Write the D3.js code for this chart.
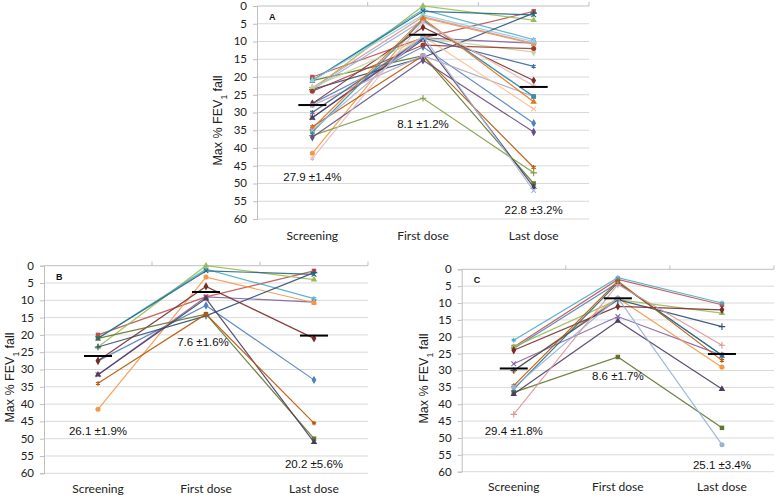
<!DOCTYPE html>
<html><head><meta charset="utf-8">
<script src="https://cdn.jsdelivr.net/npm/d3@7"></script>
<style>body{margin:0;background:#fff}</style>
</head><body><svg id="c" width="777" height="498"></svg>
<script>
const categories = ["Screening", "First dose", "Last dose"];
const yTicks = [0, 5, 10, 15, 20, 25, 30, 35, 40, 45, 50, 55, 60];

// Panel B subjects (Max % FEV1 fall)
const bScreening = [27.5, 20, 23.5, 31.5, 21, 41.5, 23.5, 27.5, 21, 31.5, 21, 34];
const bFirstDose = [11.5, 9, 0, 9, 1, 3.3, 14.5, 6, 14, 9.5, 1.5, 14];
const bLastDose  = [33, 1.5, 4, 10.5, 9.5, 10.7, 2, 21, 50, 51, 2.5, 45.5];

// Panel C subjects
const cScreening = [23.5, 23, 23, 28, 21, 30, 30, 24, 36.5, 37, 35.5, 34.5, 35, 43];
const cFirstDose = [4, 3, 9, 14, 2.5, 8.5, 9, 11, 26, 15.3, 4, 3.5, 8.5, 4.5];
const cLastDose  = [25.5, 10.5, 13, 25.5, 10, 29, 17, 12, 47, 35.5, 25.5, 27, 52, 22.5];

// Panel A = all subjects
const aScreening = bScreening.concat(cScreening);
const aFirstDose = bFirstDose.concat(cFirstDose);
const aLastDose  = bLastDose.concat(cLastDose);

// Group means and labels
const aMeans = [27.9, 8.1, 22.8];
const bMeans = [26.1, 7.6, 20.2];
const cMeans = [29.4, 8.6, 25.1];
const aMeanLabels = ["27.9 \u00B11.4%", "8.1 \u00B11.2%", "22.8 \u00B13.2%"];
const bMeanLabels = ["26.1 \u00B11.9%", "7.6 \u00B11.6%", "20.2 \u00B15.6%"];
const cMeanLabels = ["29.4 \u00B11.8%", "8.6 \u00B11.7%", "25.1 \u00B13.4%"];

const palette = ["#4F81BD","#C0504D","#9BBB59","#8064A2","#4BACC6","#F79646",
  "#2C4D75","#772C2A","#5F7530","#4D3B62","#276A7C","#B65708",
  "#95B3D7","#D99694","#C3D69B","#B3A2C7","#93CDDD","#FAC090",
  "#3A679C","#9F3B38","#7E9C40","#664F82","#348DA5","#E3721B","#A5B9DC","#E6B9B8"];

const svg = d3.select("#c");
const symTimes = d3.symbolTimes || d3.symbolCross;
const symPlus = d3.symbolPlus || d3.symbolCross;
const symAst = d3.symbolAsterisk || d3.symbolCross;
const markerTypes = [
  {t: d3.symbolDiamond, s: 20, fill: true},
  {t: d3.symbolSquare, s: 20, fill: true},
  {t: d3.symbolTriangle, s: 18, fill: true},
  {t: symTimes, s: 16, fill: false},
  {t: symAst, s: 16, fill: false},
  {t: d3.symbolCircle, s: 20, fill: true},
  {t: symPlus, s: 16, fill: false}
];

function panel(cfg) {
  const g = svg.append("g");
  const x = d3.scaleBand().domain(categories).range([cfg.x0, cfg.x1]);
  const y = d3.scaleLinear().domain([0, 60]).range([cfg.y0, cfg.y1]);

  // gridlines
  g.selectAll(".grid").data(yTicks.slice(1)).enter().append("line")
    .attr("x1", cfg.x0).attr("x2", cfg.x1)
    .attr("y1", d => y(d)).attr("y2", d => y(d))
    .attr("stroke", "#D9D9D9").attr("stroke-width", 1);

  // left axis
  const ax = g.append("g").attr("transform", `translate(${cfg.x0},0)`)
    .call(d3.axisLeft(y).tickValues(yTicks).tickSize(4).tickPadding(6));
  ax.select(".domain").attr("stroke", "#BFBFBF");
  ax.selectAll(".tick line").attr("stroke", "#BFBFBF");
  ax.selectAll(".tick text").attr("font-family", "Lato, 'Open Sans', sans-serif")
    .attr("font-size", 11.5).attr("fill", "#222").attr("dy", "0.3em");

  // top axis line with category boundary ticks
  g.append("line").attr("x1", cfg.x0).attr("x2", cfg.x1)
    .attr("y1", y(0)).attr("y2", y(0)).attr("stroke", "#BFBFBF");
  const bounds = categories.map(c => x(c) + x.bandwidth());
  g.selectAll(".bt").data(bounds).enter().append("line")
    .attr("x1", d => d).attr("x2", d => d)
    .attr("y1", y(0) - 4).attr("y2", y(0)).attr("stroke", "#BFBFBF");

  // category labels
  g.selectAll(".cl").data(categories).enter().append("text")
    .attr("x", d => x(d) + x.bandwidth() / 2).attr("y", cfg.catY)
    .attr("text-anchor", "middle")
    .attr("font-family", "Lato, 'Open Sans', sans-serif").attr("font-size", 12)
    .attr("fill", "#222").text(d => d);

  // y title
  const t = g.append("text")
    .attr("transform", `translate(${cfg.titleX},${(cfg.y0 + cfg.y1) / 2 + 8}) rotate(-90)`)
    .attr("text-anchor", "middle")
    .attr("font-family", "'Liberation Sans', Arial, sans-serif").attr("font-size", 12.5)
    .attr("fill", "#222");
  t.append("tspan").text("Max % FEV");
  t.append("tspan").attr("baseline-shift", "sub").attr("font-size", 8.5).text("1");
  t.append("tspan").text(" fall");

  // series
  const n = cfg.s.length;
  const line = d3.line().x((d, i) => x(categories[i]) + x.bandwidth() / 2).y(d => y(d));
  for (let i = 0; i < n; i++) {
    const vals = [cfg.s[i], cfg.f[i], cfg.l[i]];
    const col = palette[i % palette.length];
    g.append("path").attr("d", line(vals)).attr("fill", "none")
      .attr("stroke", col).attr("stroke-width", 1.2).attr("stroke-opacity", 0.9);
    const mk = markerTypes[i % markerTypes.length];
    vals.forEach((v, j) => {
      g.append("path")
        .attr("d", d3.symbol().type(mk.t).size(mk.s)())
        .attr("transform", `translate(${x(categories[j]) + x.bandwidth() / 2},${y(v)})`)
        .attr("fill", mk.fill ? col : "none")
        .attr("stroke", mk.fill ? "none" : col).attr("stroke-width", 1.1);
    });
  }

  // mean bars
  g.selectAll(".mb").data(cfg.m).enter().append("line")
    .attr("x1", (d, j) => x(categories[j]) + x.bandwidth() / 2 - 14)
    .attr("x2", (d, j) => x(categories[j]) + x.bandwidth() / 2 + 14)
    .attr("y1", d => y(d)).attr("y2", d => y(d))
    .attr("stroke", "#000").attr("stroke-width", 2);

  // mean labels
  cfg.ml.forEach((txt, j) => {
    g.append("text").attr("x", x(categories[j]) + x.bandwidth() / 2 + cfg.labDx[j])
      .attr("y", y(cfg.labV[j])).attr("text-anchor", "middle")
      .attr("font-family", "'Liberation Sans', Arial, sans-serif").attr("font-size", 11.5)
      .attr("fill", "#111").text(txt);
  });

  // panel letter
  g.append("text").attr("x", cfg.x0 + 12).attr("y", y(0) + 14)
    .attr("font-family", "'Liberation Sans', Arial, sans-serif").attr("font-size", 9)
    .attr("font-weight", "bold").attr("fill", "#111").text(cfg.letter);
}

panel({x0: 257, x1: 589, y0: 6, y1: 219, catY: 240, titleX: 222,
  s: aScreening, f: aFirstDose, l: aLastDose, m: aMeans, ml: aMeanLabels,
  labV: [49.4, 34.3, 58.6], labDx: [0, 0, 0], letter: "A"});
panel({x0: 44, x1: 368, y0: 265.7, y1: 473.3, catY: 493, titleX: 14,
  s: bScreening, f: bFirstDose, l: bLastDose, m: bMeans, ml: bMeanLabels,
  labV: [49, 23.3, 58.4], labDx: [0, -3, 0], letter: "B"});
panel({x0: 461.7, x1: 774, y0: 269.3, y1: 471.7, catY: 491, titleX: 428,
  s: cScreening, f: cFirstDose, l: cLastDose, m: cMeans, ml: cMeanLabels,
  labV: [49, 32.8, 59.2], labDx: [0, 0, 0], letter: "C"});
</script></body></html>
